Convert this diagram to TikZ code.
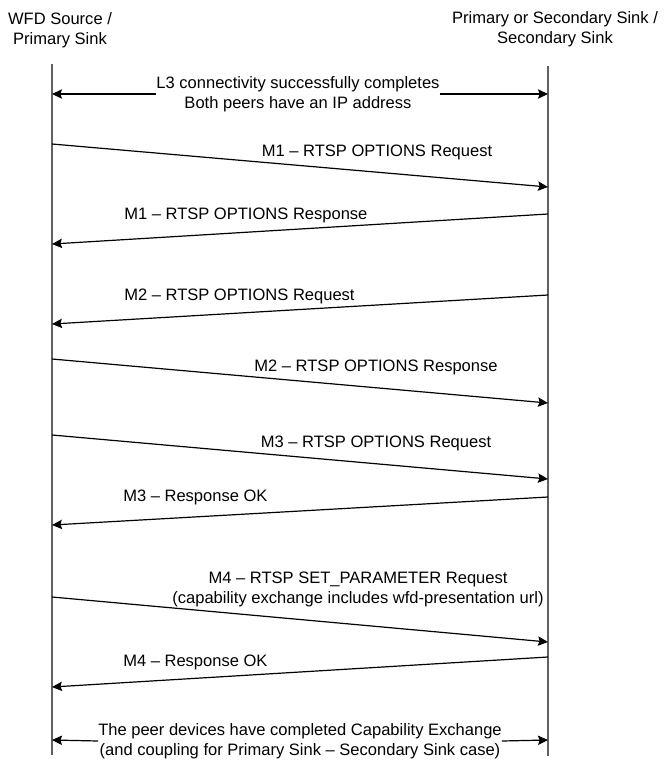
\documentclass[tikz,border=0pt]{standalone}
\usepackage{fontspec}
\setmainfont{Liberation Sans}
\usetikzlibrary{arrows.meta}

\begin{document}
\begin{tikzpicture}[x=0.75pt,y=-0.75pt,
    lifeline/.style={draw=black!62,line width=1.4pt},
    msg/.style={draw=black,line width=0.9pt,-{Stealth[length=7.5pt,width=7pt,inset=1.2pt]}},
    lbl/.style={font=\fontsize{12.4pt}{15pt}\selectfont,align=center,inner sep=0pt}]
    \useasboundingbox (0,0) rectangle (668,769);

    % Headers
    \node[lbl] (src) at (60,30) {WFD Source /\\Primary Sink};
    \node[lbl] (snk) at (555,29) {Primary or Secondary Sink /\\Secondary Sink};

    % Lifelines
    \coordinate (srctop) at (52,64);
    \coordinate (srcbot) at (52,755);
    \coordinate (snktop) at (548,66);
    \coordinate (snkbot) at (548,756);
    \draw[lifeline] (srctop) -- (srcbot);
    \draw[lifeline] (snktop) -- (snkbot);

    % L3 connectivity
    \node[lbl] (l3) at (298,94) {L3 connectivity successfully completes\\Both peers have an IP address};
    \coordinate (l3a) at (52,94);
    \coordinate (l3b) at (548,94);
    \draw[msg] (l3.west) -- (l3a);
    \draw[msg] (l3.east) -- (l3b);

    % Message end points
    \coordinate (a1) at (52,144);  \coordinate (b1) at (548,187);
    \coordinate (b2) at (548,214); \coordinate (a2) at (52,244);
    \coordinate (b3) at (548,295); \coordinate (a3) at (52,324);
    \coordinate (a4) at (52,359);  \coordinate (b4) at (548,403);
    \coordinate (a5) at (52,435);  \coordinate (b5) at (548,479);
    \coordinate (b6) at (548,497); \coordinate (a6) at (52,525);
    \coordinate (a7) at (52,597);  \coordinate (b7) at (548,642);
    \coordinate (b8) at (548,657); \coordinate (a8) at (52,687);

    % Messages
    \draw[msg] (a1) -- (b1);
    \draw[msg] (b2) -- (a2);
    \draw[msg] (b3) -- (a3);
    \draw[msg] (a4) -- (b4);
    \draw[msg] (a5) -- (b5);
    \draw[msg] (b6) -- (a6);
    \draw[msg] (a7) -- (b7);
    \draw[msg] (b8) -- (a8);

    % Labels
    \node[lbl] (m1q) at (377,152) {M1 -- RTSP OPTIONS Request};
    \node[lbl,anchor=west] (m1r) at (124,215) {M1 -- RTSP OPTIONS Response};
    \node[lbl,anchor=west] (m2q) at (124,296) {M2 -- RTSP OPTIONS Request};
    \node[lbl] (m2r) at (376,367) {M2 -- RTSP OPTIONS Response};
    \node[lbl] (m3q) at (376,443) {M3 -- RTSP OPTIONS Request};
    \node[lbl,anchor=west] (m3r) at (123,497) {M3 -- Response OK};
    \node[lbl] (m4q) at (358,589) {M4 -- RTSP SET\_PARAMETER Request\\(capability exchange includes wfd-presentation url)};
    \node[lbl,anchor=west] (m4r) at (123,662) {M4 -- Response OK};

    % Capability exchange done
    \node[lbl] (cap) at (300,741) {The peer devices have completed Capability Exchange\\(and coupling for Primary Sink -- Secondary Sink case)};
    \coordinate (capa) at (52,740);
    \coordinate (capb) at (548,740);
    \draw[msg] (cap.west) -- (capa);
    \draw[msg] (cap.east) -- (capb);
\end{tikzpicture}
\end{document}
